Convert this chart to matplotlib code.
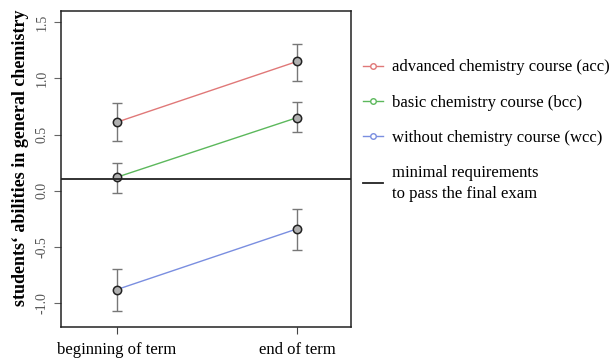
import numpy as np
import matplotlib.pyplot as plt
from matplotlib.lines import Line2D

plt.rcParams['font.family'] = ['Liberation Serif', 'DejaVu Serif']

# data
time_labels = ["beginning of term", "end of term"]
groups = ["advanced chemistry course (acc)",
          "basic chemistry course (bcc)",
          "without chemistry course (wcc)"]
means = [[0.61, 1.15],
         [0.12, 0.65],
         [-0.88, -0.34]]
upper = [[0.78, 1.31],
         [0.25, 0.79],
         [-0.70, -0.16]]
lower = [[0.44, 0.98],
         [-0.02, 0.52],
         [-1.07, -0.53]]
colors = ["#e07878", "#5cb85c", "#7a8ee0"]
min_req = 0.10
min_req_label = "minimal requirements\nto pass the final exam"

fig = plt.figure(figsize=(6.13, 3.6), dpi=100)
ax = fig.add_axes([0.0995, 0.0917, 0.4731, 0.8773])

x = np.array([1, 2])
for m, up, lo, c in zip(means, upper, lower, colors):
    m = np.array(m)
    yerr = [m - np.array(lo), np.array(up) - m]
    ax.errorbar(x, m, yerr=yerr, fmt='none', ecolor='#777777', elinewidth=1,
                capsize=3.5, capthick=1, zorder=2)
    ax.plot(x, m, color=c, lw=1, zorder=3)
    ax.plot(x, m, 'o', ms=6, mfc='#b0b0b0', mec='#222222', mew=1.1, zorder=4)

ax.axhline(min_req, color='#222222', lw=1.3, zorder=5)

ax.set_xlim(0.69, 2.30)
ax.set_ylim(-1.213, 1.598)
ax.set_xticks(x)
ax.set_xticklabels(time_labels, fontsize=12)
ax.set_yticks([-1.0, -0.5, 0.0, 0.5, 1.0, 1.5])
ax.set_yticklabels(["-1.0", "-0.5", "0.0", "0.5", "1.0", "1.5"], rotation=90,
                   va='center', fontsize=10, color='#555555')
ax.tick_params(axis='x', length=5, pad=6, color='#444444')
ax.tick_params(axis='y', length=5, pad=4, color='#666666')
for s in ax.spines.values():
    s.set_color('#222222')
    s.set_linewidth(1.1)
ax.set_ylabel("students\u2018 abilities in general chemistry", fontsize=13,
              fontweight='bold', va='center')
ax.yaxis.set_label_coords(-0.138, 0.535)

handles = [Line2D([], [], color=c, lw=1, marker='o', ms=4, mfc='white',
                  mec=c, mew=1) for c in colors]
handles.append(Line2D([], [], color='#222222', lw=1.3))
leg = fig.legend(handles, groups + [min_req_label], loc='upper left',
                 bbox_to_anchor=(0.592, 0.835), frameon=False, fontsize=12,
                 handlelength=1.2, handletextpad=0.55, labelspacing=1.15,
                 borderaxespad=0, borderpad=0)
for t in leg.get_texts():
    t.set_linespacing(1.4)

fig.savefig("out.png", dpi=100)
